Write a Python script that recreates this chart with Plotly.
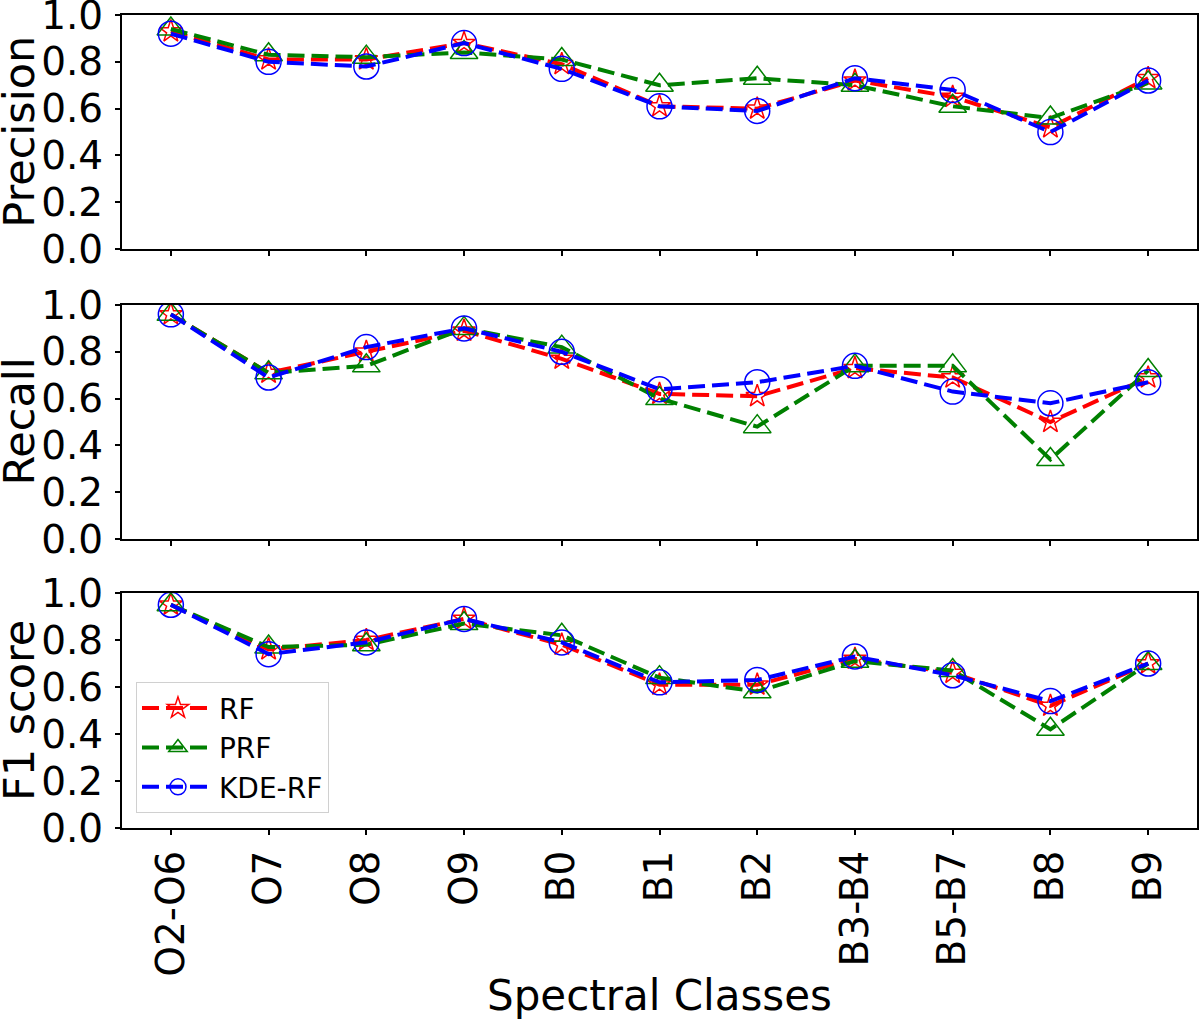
import plotly.graph_objects as go
from plotly.subplots import make_subplots

classes = ["O2-O6", "O7", "O8", "O9", "B0", "B1", "B2", "B3-B4", "B5-B7", "B8", "B9"]

precision_rf = [0.93, 0.81, 0.81, 0.88, 0.79, 0.61, 0.60, 0.72, 0.65, 0.52, 0.73]
precision_prf = [0.94, 0.83, 0.82, 0.84, 0.81, 0.70, 0.73, 0.70, 0.61, 0.56, 0.71]
precision_kde = [0.92, 0.80, 0.78, 0.88, 0.77, 0.61, 0.59, 0.73, 0.68, 0.50, 0.72]

recall_rf = [0.96, 0.71, 0.80, 0.89, 0.77, 0.62, 0.61, 0.73, 0.69, 0.50, 0.69]
recall_prf = [0.96, 0.71, 0.74, 0.90, 0.82, 0.60, 0.48, 0.74, 0.74, 0.34, 0.72]
recall_kde = [0.96, 0.69, 0.82, 0.90, 0.80, 0.64, 0.67, 0.74, 0.63, 0.58, 0.67]

f1_rf = [0.95, 0.76, 0.80, 0.89, 0.78, 0.61, 0.61, 0.72, 0.66, 0.52, 0.70]
f1_prf = [0.95, 0.77, 0.78, 0.87, 0.82, 0.64, 0.58, 0.71, 0.67, 0.42, 0.70]
f1_kde = [0.95, 0.74, 0.79, 0.89, 0.79, 0.62, 0.63, 0.73, 0.65, 0.54, 0.70]

y_ticks = [0.0, 0.2, 0.4, 0.6, 0.8, 1.0]

panels = [
    ("Precision", precision_rf, precision_prf, precision_kde),
    ("Recall", recall_rf, recall_prf, recall_kde),
    ("F1 score", f1_rf, f1_prf, f1_kde),
]
# name, colour, symbol, size
styles = [
    ("RF", "red", "star-open", 17),
    ("PRF", "green", "triangle-up-open", 24),
    ("KDE-RF", "blue", "circle-open", 25),
]

FONT = "DejaVu Sans"

fig = make_subplots(rows=3, cols=1, shared_xaxes=True)

for row, (title, rf, prf, kde) in enumerate(panels, start=1):
    for (name, color, symbol, size), vals in zip(styles, [rf, prf, kde]):
        fig.add_trace(go.Scatter(
            x=classes, y=vals, mode="lines+markers", name=name,
            showlegend=(row == 3),
            line=dict(color=color, width=4, dash="17px,7px"),
            marker=dict(symbol=symbol, size=size, color=color, line=dict(width=1.5, color=color)),
        ), row=row, col=1)
    fig.update_yaxes(
        range=[0, 1], tickvals=y_ticks, ticktext=["%.1f" % v for v in y_ticks],
        tickfont=dict(size=39, family=FONT, color="black"), ticklabelstandoff=4,
        ticklabeloverflow="allow",
        ticks="outside", ticklen=5, tickwidth=1.5, tickcolor="black",
        showline=True, linecolor="black", linewidth=2, mirror=True,
        showgrid=False, zeroline=False, automargin=False, row=row, col=1)
    fig.update_xaxes(
        range=[-0.5, 10.5], ticks="outside", ticklen=5, tickwidth=1.5, tickcolor="black",
        showline=True, linecolor="black", linewidth=2, mirror=True,
        showgrid=False, zeroline=False, automargin=False, row=row, col=1)
    # y-axis title as a rotated annotation so it sits where the reference puts it
    fig.add_annotation(
        text=title, textangle=-90, xref="paper", x=-0.0962, xanchor="center",
        yref="y%s domain" % ("" if row == 1 else row), y=0.5, yanchor="middle",
        showarrow=False, font=dict(size=43, family=FONT, color="black"))

fig.update_xaxes(showticklabels=True, tickangle=-90,
                 tickfont=dict(size=39, family=FONT, color="black"),
                 row=3, col=1)

fig.add_annotation(
    text="Spectral Classes", xref="paper", x=0.5, xanchor="center",
    yref="paper", y=-0.206, yanchor="middle",
    showarrow=False, font=dict(size=42, family=FONT, color="black"))

fig.update_layout(
    width=1200, height=1020,
    margin=dict(l=122, r=3, t=15, b=192),
    paper_bgcolor="white", plot_bgcolor="white",
    font=dict(family=FONT, color="black"),
    yaxis=dict(domain=[0.712, 1.0]),
    yaxis2=dict(domain=[0.3555, 0.6433]),
    yaxis3=dict(domain=[0.0, 0.289]),
    legend=dict(x=0.013, y=0.018, xanchor="left", yanchor="bottom",
                bgcolor="rgba(255,255,255,0.8)", bordercolor="#d0d0d0", borderwidth=1,
                font=dict(size=28, family=FONT, color="black"), itemwidth=72,
                tracegroupgap=0),
)

# drop the page's default body margin so the figure fills the window
fig.write_html("out.html", config={"displayModeBar": False},
               post_script="document.body.style.margin = '0';")
